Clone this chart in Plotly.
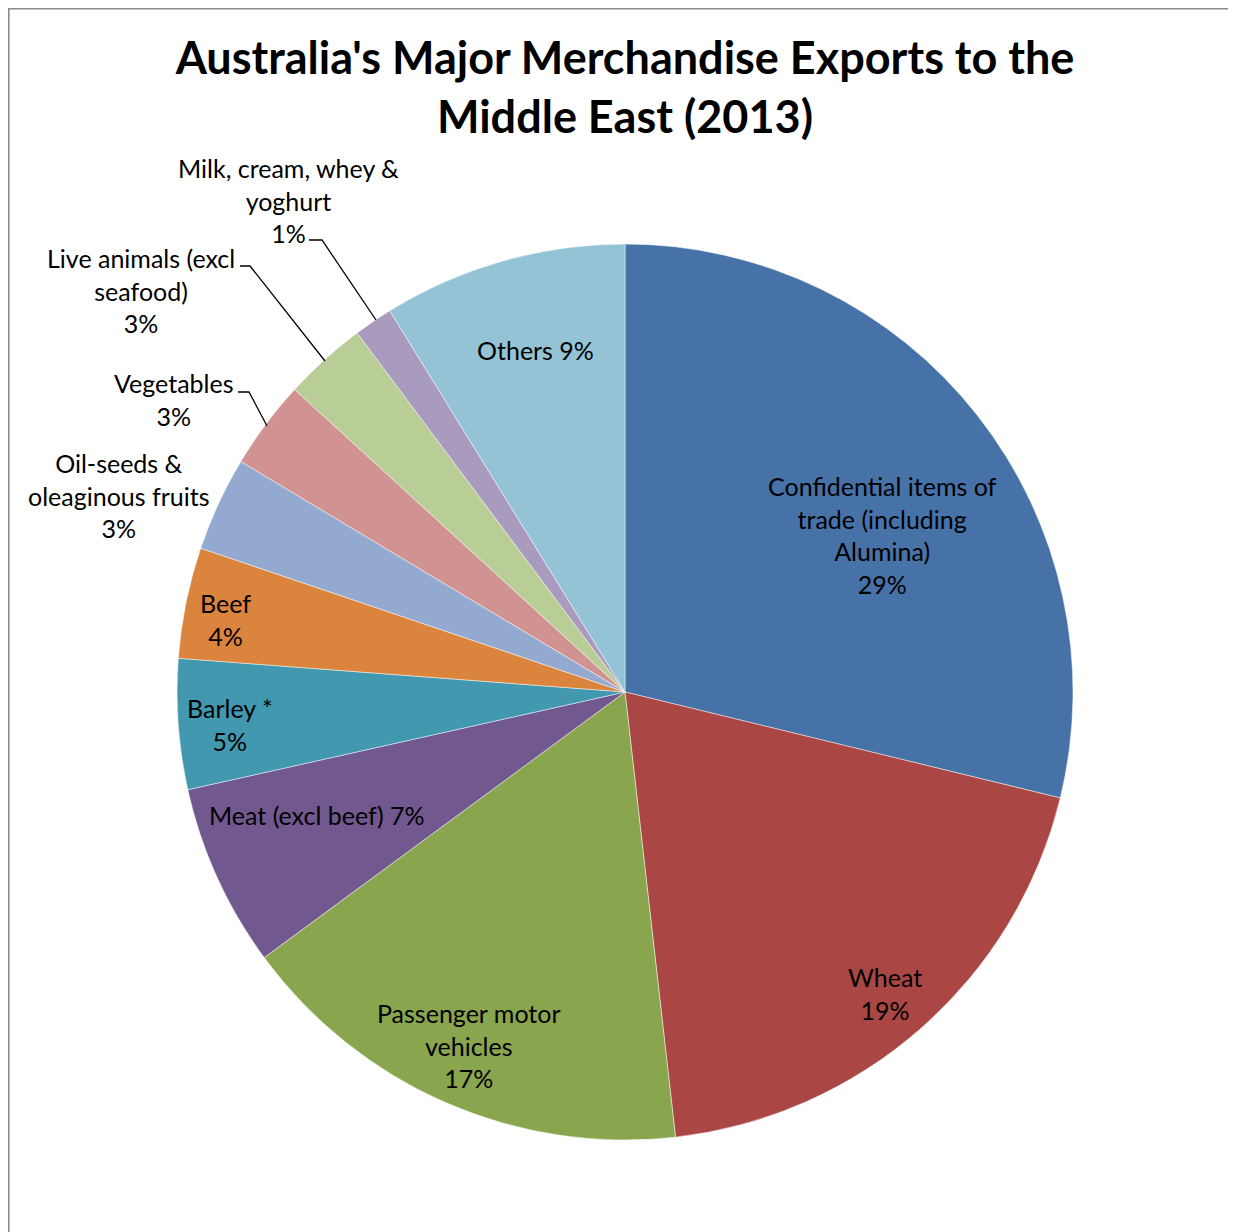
import plotly.graph_objects as go

# ---- data ----
categories = [
    "Confidential items of trade (including Alumina)",
    "Wheat",
    "Passenger motor vehicles",
    "Meat (excl beef)",
    "Barley *",
    "Beef",
    "Oil-seeds & oleaginous fruits",
    "Vegetables",
    "Live animals (excl seafood)",
    "Milk, cream, whey & yoghurt",
    "Others",
]
shares = [28.8, 19.4, 16.7, 6.6, 4.7, 4.0, 3.4, 3.2, 3.0, 1.4, 8.8]
label_lines = [
    ["Confidential items of", "trade (including", "Alumina)"],
    ["Wheat"],
    ["Passenger motor", "vehicles"],
    ["Meat (excl beef)"],
    ["Barley *"],
    ["Beef"],
    ["Oil-seeds &", "oleaginous fruits"],
    ["Vegetables"],
    ["Live animals (excl", "seafood)"],
    ["Milk, cream, whey &", "yoghurt"],
    ["Others"],
]
colors = ["#4672A8", "#AA4644", "#89A54E", "#71588F", "#4198AF", "#DB843D",
          "#93A9CF", "#D19392", "#B9CD96", "#A99BBD", "#93C3D5"]

W, H = 1236, 1232
OFF = 8  # page body margin offset of the figure in the screenshot
CX, CY, R = 625 - OFF, 692 - OFF, 448

# label styling/positions (screen pixel centres) ; inline = percent on same line
label_pos = [(882, 535), (885, 993), (469, 1045), (317, 815), (230, 725), (226, 619),
             (119, 495), (173, 400), (141, 290), (288, 200), (535, 350)]
inline = [False, False, False, True, False, False, False, False, False, False, True]
leaders = {
    7: [(238, 392), (249, 392), (267, 426)],
    8: [(240, 266), (250, 266), (325, 361)],
    9: [(309, 240), (322, 240), (376, 320)],
}

def px(x, y):
    return (x - OFF) / W, 1 - (y - OFF) / H

total = sum(shares)
fig = go.Figure(go.Pie(
    labels=categories,
    values=shares,
    sort=False,
    direction="clockwise",
    rotation=0,
    textinfo="none",
    marker=dict(colors=colors, line=dict(color="rgba(255,255,255,0.6)", width=0.8)),
    domain=dict(x=[(CX - R) / W, (CX + R) / W], y=[(H - CY - R) / H, (H - CY + R) / H]),
    showlegend=False,
    hovertemplate="%{label}: %{percent}<extra></extra>",
))

FONT = "Lato, 'Open Sans', sans-serif"
annotations = []
for i, lines in enumerate(label_lines):
    pct = f"{round(shares[i] / total * 100)}%"
    if inline[i]:
        text = "<br>".join(lines[:-1] + [lines[-1] + " " + pct])
    else:
        text = "<br>".join(lines + [pct])
    x, y = px(*label_pos[i])
    annotations.append(dict(x=x, y=y, xref="paper", yref="paper", text=text,
                            showarrow=False, xanchor="center", yanchor="middle",
                            align="center", font=dict(family=FONT, size=25, color="#000")))

shapes = []
for pts in leaders.values():
    path = "M " + " L ".join(f"{px(*p)[0]},{px(*p)[1]}" for p in pts)
    shapes.append(dict(type="path", path=path, xref="paper", yref="paper",
                       line=dict(color="#000", width=1.3)))
# chart-area border (top and left visible)
shapes.append(dict(type="line", xref="paper", yref="paper", x0=0, y0=0.9995, x1=1.01, y1=0.9995,
                   line=dict(color="#8A8A8A", width=2)))
shapes.append(dict(type="line", xref="paper", yref="paper", x0=0.0005, y0=1.01, x1=0.0005, y1=-0.01,
                   line=dict(color="#8A8A8A", width=2)))

fig.update_layout(
    width=W, height=H,
    margin=dict(l=0, r=0, t=0, b=0),
    paper_bgcolor="white", plot_bgcolor="white",
    title=dict(text="<b>Australia's Major Merchandise Exports to the<br>Middle East (2013)</b>",
               x=CX / W, xanchor="center", y=1 - 66 / H, yanchor="middle",
               font=dict(family=FONT, size=45, color="#000")),
    annotations=annotations,
    shapes=shapes,
)

fig.write_html("out.html")
